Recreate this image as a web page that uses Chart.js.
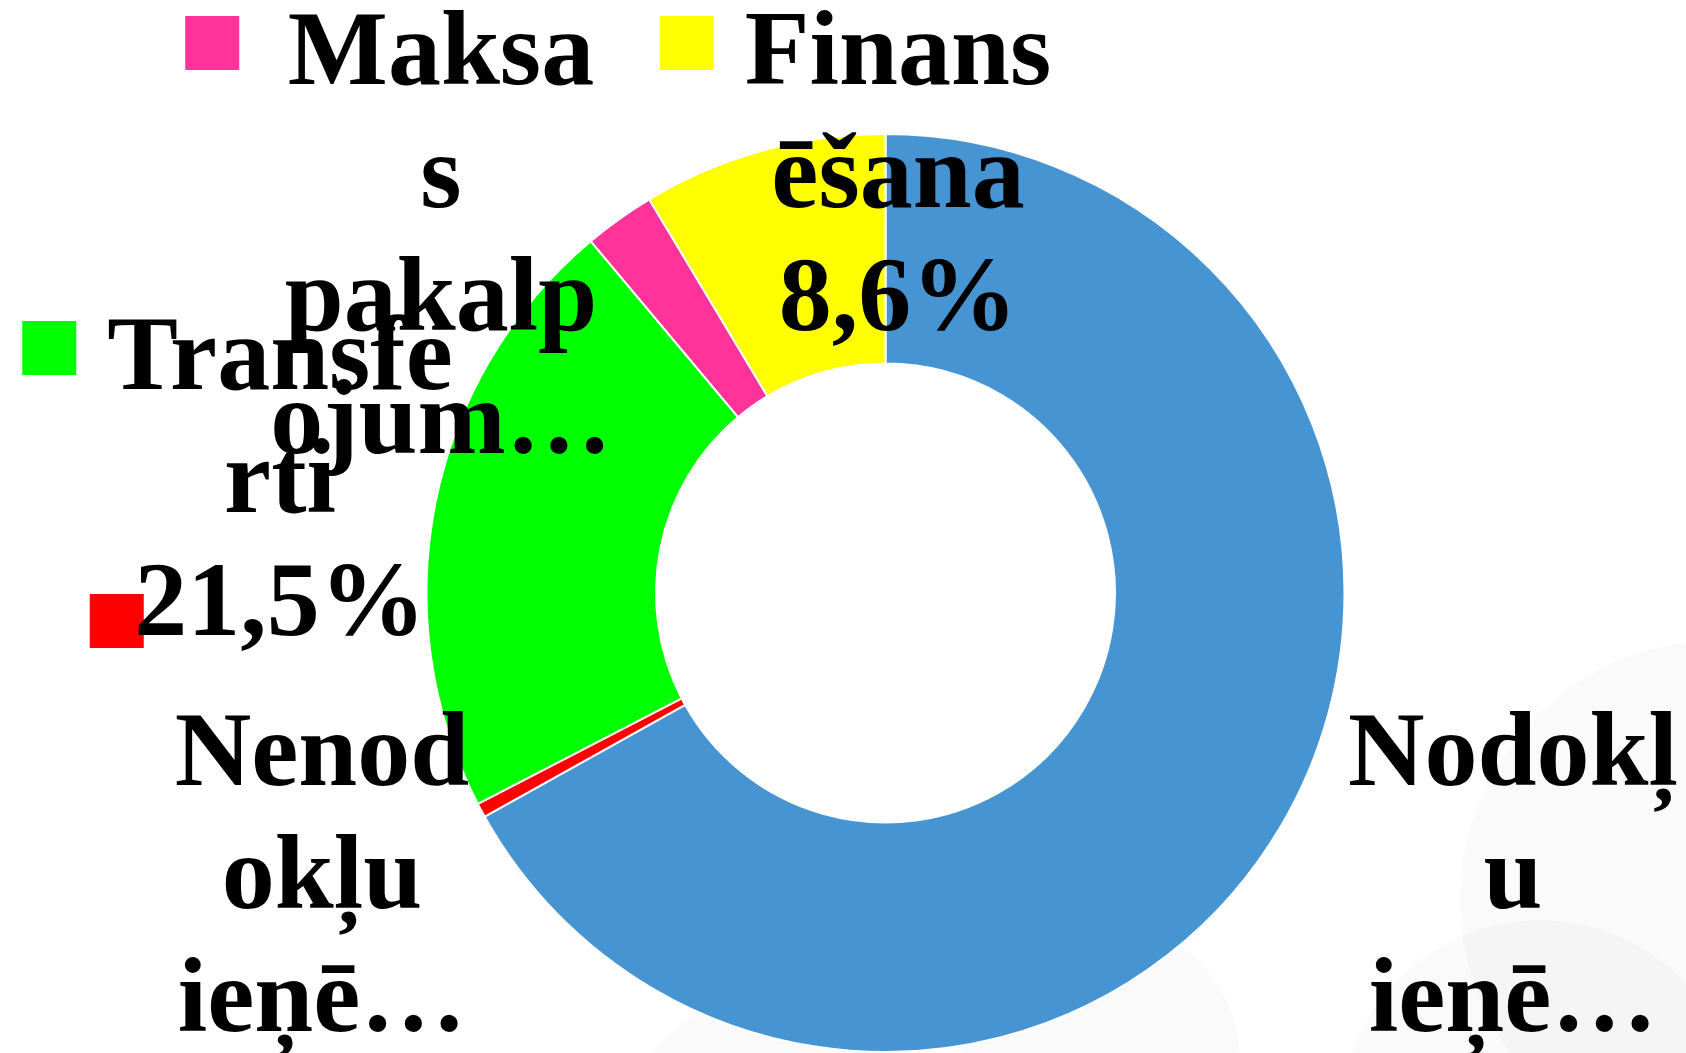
<!DOCTYPE html>
<html>
<head>
<meta charset="utf-8">
<script src="https://cdn.jsdelivr.net/npm/chart.js@4"></script>
<style>
html, body { margin: 0; padding: 0; background: #fff; }
#wrap { width: 1686px; height: 1053px; position: relative; }
</style>
</head>
<body>
<div id="wrap"><canvas id="myChart" width="1686" height="1053"></canvas></div>
<script>
// data
var categories = ['Nodokļu ieņēmumi', 'Nenodokļu ieņēmumi', 'Transferti', 'Maksas pakalpojumi', 'Finansēšana'];
var shares = [66.9, 0.5, 21.5, 2.5, 8.6];
var colors = ['#4694D2', '#FF0000', '#00FF00', '#FF3399', '#FFFF00'];
// label text as it is cut in the original
var labelLines = [
    ['', 'Nodokļ', 'u', 'ieņē…'],
    ['', 'Nenod', 'okļu', 'ieņē…'],
    ['Transfe', 'rti', '21,5%'],
    ['Maksa', 's', 'pakalp', 'ojum…'],
    ['Finans', 'ēšana', '8,6%']
];

// where each label block sits (center x, first baseline)
var labelPos = [
    {x: 1513, y: 662},
    {x: 322, y: 662},
    {x: 280, y: 389},
    {x: 441, y: 84},
    {x: 898, y: 84}
];
var FONT = 'bold 106px "Liberation Serif", "Times New Roman", serif';
var LINE_H = 123;
var KEY = 54;

var backdrop = {
    id: 'backdrop',
    beforeDraw: function(chart){
        var c = chart.ctx;
        c.save();
        c.fillStyle = '#fff';
        c.fillRect(0, 0, chart.width, chart.height);
        // faint watermark circles
        var rings = [[1720, 900, 260], [1100, 1060, 140], [1540, 1120, 200], [780, 1150, 160]];
        rings.forEach(function(r){
            c.beginPath();
            c.arc(r[0], r[1], r[2], 0, Math.PI * 2);
            c.fillStyle = 'rgba(0,0,0,0.018)';
            c.fill();
        });
        c.restore();
    }
};

var labels = {
    id: 'labels',
    afterDraw: function(chart){
        var c = chart.ctx;
        c.save();
        c.font = FONT;
        c.textAlign = 'center';
        c.textBaseline = 'alphabetic';
        labelLines.forEach(function(lines, i){
            var p = labelPos[i];
            var w = 0;
            lines.forEach(function(t){ w = Math.max(w, c.measureText(t).width); });
            // legend key left of the block
            c.fillStyle = colors[i];
            c.fillRect(p.x - w / 2 - 31 - KEY, p.y - 68, KEY, KEY);
            c.fillStyle = '#000';
            lines.forEach(function(t, j){
                c.fillText(t, p.x, p.y + j * LINE_H);
            });
        });
        c.restore();
    }
};

var ctx = document.getElementById('myChart').getContext('2d');
var myChart = new Chart(ctx, {
    type: 'doughnut',
    data: {
        labels: categories,
        datasets: [{
            data: shares,
            backgroundColor: colors,
            borderColor: '#fff',
            borderWidth: 2
        }]
    },
    options: {
        responsive: false,
        animation: false,
        cutout: '50%',
        layout: { padding: { left: 425, right: 340, top: 133, bottom: 0 } },
        plugins: {
            legend: { display: false },
            tooltip: { enabled: false }
        }
    },
    plugins: [backdrop, labels]
});
</script>
</body>
</html>
